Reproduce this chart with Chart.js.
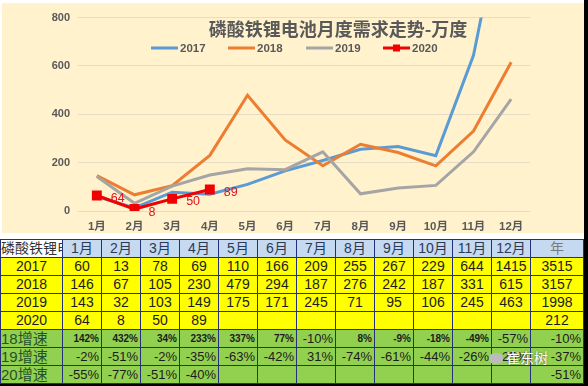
<!DOCTYPE html>
<html>
<head>
<meta charset="utf-8">
<script src="https://cdn.jsdelivr.net/npm/chart.js@4/dist/chart.umd.min.js"></script>
<style>
body { margin: 0; background: #000; width: 588px; height: 386px; overflow: hidden;
       font-family: "Liberation Sans", "Noto Sans CJK SC", sans-serif; }
#page { position: absolute; left: 0; top: 0; width: 584px; height: 384px; background: #fff; }
#panel { position: absolute; left: 2px; top: 3px; width: 582px; height: 230px; background: #fff2cc; }
#tbl { position: absolute; left: 0; top: 239px; border-collapse: collapse; table-layout: fixed; width: 583px; }
#tbl td { border: 1px solid #24307a; height: 17px; padding: 0; text-align: center; font-size: 14px;
          color: #1c1c1c; white-space: nowrap; overflow: hidden; line-height: 17px; }
#tbl tr.head td { background: #c5d9f1; color: #2c3a55; }
#tbl tr.head td.corner { background: #fff; text-align: left; color: #333; font-size: 14px; }
#tbl tr.num td { background: #ffff00; }
#tbl tr.pct td { background: #92d050; text-align: right; font-size: 13px; padding-right: 2px; }
#tbl tr.pct td.lab { text-align: left; color: #24512a; font-size: 15px; padding-right: 0; }
#tbl tr.pct td.sm { font-size: 10px; font-weight: bold; }
#wm { position: absolute; left: 489px; top: 347px; color: #fff; font-size: 14px;
      font-family: "Noto Sans CJK SC"; text-shadow: 0 0 2px #555; }
#wm span { display: inline-block; width: 14px; height: 11px; border-radius: 6px; background: #bbb;
           margin-right: 3px; vertical-align: -1px; }
</style>
</head>
<body>
<div id="page">
  <div id="panel"><canvas id="c" width="582" height="230"></canvas></div>
  <table id="tbl"></table>
  <div id="wm"><span></span>崔东树</div>
</div>
<script>
var months = ['1月', '2月', '3月', '4月', '5月', '6月', '7月', '8月', '9月', '10月', '11月', '12月']
var d2017 = [60, 13, 78, 69, 110, 166, 209, 255, 267, 229, 644, 1415]
var d2018 = [146, 67, 105, 230, 479, 294, 187, 276, 242, 187, 331, 615]
var d2019 = [143, 32, 103, 149, 175, 171, 245, 71, 95, 106, 245, 463]
var d2020 = [64, 8, 50, 89]
var yearTotals = [3515, 3157, 1998, 212]
var g18 = ['142%', '432%', '34%', '233%', '337%', '77%', '-10%', '8%', '-9%', '-18%', '-49%', '-57%', '-10%']
var g19 = ['-2%', '-51%', '-2%', '-35%', '-63%', '-42%', '31%', '-74%', '-61%', '-44%', '-26%', '-25%', '-37%']
var g20 = ['-55%', '-77%', '-51%', '-40%', '', '', '', '', '', '', '', '', '-51%']
var yTicks = [0, 200, 400, 600, 800]
var title = '磷酸铁锂电池月度需求走势-万度'
// cells of the 18增速 row printed in a smaller font
var smallCells18 = [0, 1, 2, 3, 4, 5, 7, 8, 9, 10]

// ---- table ----
var tbl = document.getElementById('tbl')
var html = '<colgroup><col style="width:62px">'
months.forEach(() => html += '<col style="width:39px">')
html += '<col style="width:53px"></colgroup>'
html += '<tr class="head"><td class="corner">磷酸铁锂电</td>'
months.forEach(m => html += '<td>' + m + '</td>')
html += '<td style="color:#7a7a7a">年</td></tr>'
var rows = [['2017', d2017], ['2018', d2018], ['2019', d2019], ['2020', d2020]]
rows.forEach((r, k) => {
    html += '<tr class="num"><td>' + r[0] + '</td>'
    for (var i = 0; i < 12; i++) html += '<td>' + (r[1][i] !== undefined ? r[1][i] : '') + '</td>'
    html += '<td>' + yearTotals[k] + '</td></tr>'
})
var growth = [['18增速', g18], ['19增速', g19], ['20增速', g20]]
growth.forEach(g => {
    html += '<tr class="pct"><td class="lab">' + g[0] + '</td>'
    g[1].forEach((v, i) => {
        var cls = (g[0] == '18增速' && smallCells18.indexOf(i) >= 0) ? ' class="sm"' : ''
        html += '<td' + cls + '>' + v + '</td>'
    })
    html += '</tr>'
})
tbl.innerHTML = html

// ---- chart ----
var FONT = '"Liberation Sans", "Noto Sans CJK SC", sans-serif'
var series = [
    { label: '2017', data: d2017, color: '#5b9bd5' },
    { label: '2018', data: d2018, color: '#ed7d31' },
    { label: '2019', data: d2019, color: '#a5a5a5' },
    { label: '2020', data: d2020, color: '#f00000' }
]
var legendX = [149, 226, 304, 381]

var overlay = {
    id: 'overlay',
    afterDatasetsDraw(chart) {
        var ctx = chart.ctx
        ctx.save()
        // 2020 value labels
        var meta = chart.getDatasetMeta(3)
        ctx.fillStyle = '#e8101a'
        ctx.font = '12.5px ' + FONT
        ctx.textBaseline = 'middle'
        ctx.textAlign = 'left'
        meta.data.forEach((pt, i) => ctx.fillText(String(d2020[i]), pt.x + 14, pt.y + 3))
        // title
        ctx.fillStyle = '#595959'
        ctx.font = 'bold 18px "Noto Sans CJK SC", sans-serif'
        ctx.textAlign = 'center'
        ctx.fillText(title, 336, 26)
        // legend
        ctx.font = 'bold 11.5px ' + FONT
        ctx.textAlign = 'left'
        series.forEach((s, i) => {
            var x = legendX[i], y = 45
            ctx.strokeStyle = s.color
            ctx.lineWidth = 3
            ctx.beginPath(); ctx.moveTo(x, y); ctx.lineTo(x + 27, y); ctx.stroke()
            if (i == 3) {
                ctx.fillStyle = s.color
                ctx.fillRect(x + 10, y - 3.5, 7, 7)
            }
            ctx.fillStyle = '#595959'
            ctx.fillText(s.label, x + 29, y + 1)
        })
        ctx.restore()
    }
}

new Chart(document.getElementById('c'), {
    type: 'line',
    data: {
        labels: months,
        datasets: series.map((s, i) => ({
            label: s.label,
            data: s.data,
            borderColor: s.color,
            backgroundColor: s.color,
            borderWidth: 3,
            tension: 0,
            fill: false,
            order: 4 - i,
            pointStyle: 'rect',
            pointRadius: i == 3 ? 7 : 0,
            pointBorderWidth: 0
        }))
    },
    options: {
        responsive: false,
        animation: false,
        layout: { padding: { left: 0, right: 54, top: 7, bottom: 0 } },
        plugins: { legend: { display: false }, tooltip: { enabled: false } },
        scales: {
            x: {
                offset: true,
                grid: { display: false, drawTicks: false },
                border: { display: false },
                ticks: { color: '#595959', padding: 9, font: { family: FONT, size: 11.5, weight: 'bold' } },
                afterFit: s => { s.height = 22 }
            },
            y: {
                min: 0, max: 800,
                afterBuildTicks: s => { s.ticks = yTicks.map(v => ({ value: v })) },
                grid: { color: '#e3dcc6', lineWidth: 1, drawTicks: false },
                border: { display: false },
                ticks: { color: '#595959', padding: 8, font: { family: FONT, size: 11, weight: 'bold' } },
                afterFit: s => { s.width = 76 }
            }
        }
    },
    plugins: [overlay]
})
</script>
</body>
</html>
